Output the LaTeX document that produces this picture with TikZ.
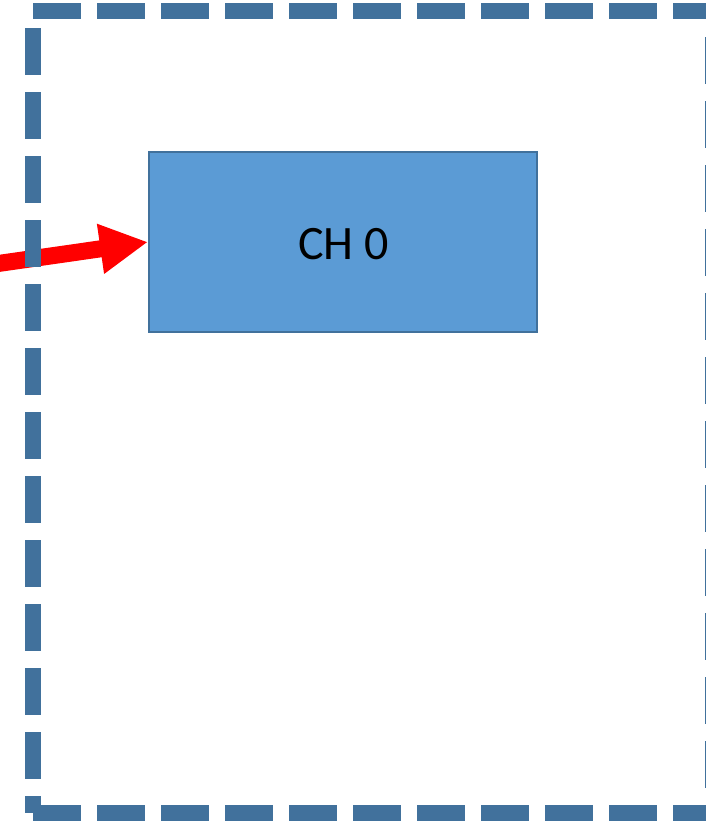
\documentclass[tikz,border=0pt]{standalone}
\usepackage{fontspec}
\setmainfont{Carlito}
\usetikzlibrary{arrows.meta}
\definecolor{frameblue}{HTML}{41719C}
\definecolor{boxblue}{HTML}{5B9BD5}
\definecolor{arrowred}{HTML}{FF0000}
\tikzset{
  chbox/.style={draw=frameblue, line width=2pt, fill=boxblue, minimum width=388pt,
    minimum height=180pt, inner sep=0pt, font=\fontsize{48}{56}\selectfont},
  frameline/.style={draw=frameblue, line width=16pt, dash pattern=on 48pt off 16pt},
  feed/.style={draw=arrowred, line width=17pt, -{Triangle[length=48pt,width=47pt]}}
}
\begin{document}
\begin{tikzpicture}[x=1pt,y=-1pt]
  \useasboundingbox (0,0) rectangle (705,822);
  % channel block
  \node[chbox] (ch) at (343,242) {};
  \node[font=\fontsize{48}{56}\selectfont, inner sep=0pt] (chlabel) at (343.5,244.5) {CH 0};
  % incoming feed
  \coordinate (src) at (-40,269);
  \draw[feed] (src) -- (ch.west);
  % dashed enclosure, one side at a time
  \coordinate (tl) at (33,11);
  \coordinate (tr) at (721,11);
  \coordinate (bl) at (33,813);
  \coordinate (br) at (721,813);
  \coordinate (ltop) at (33,28);
  \coordinate (rtop) at (712.8,37);
  \coordinate (rbot) at (712.8,813);
  \draw[frameline] (tl) -- (tr);
  \draw[frameline] (bl) -- (br);
  \draw[frameline, dash pattern=on 47pt off 17pt] (ltop) -- (bl);
  \draw[frameline, dash pattern=on 47pt off 17pt] (rtop) -- (rbot);
\end{tikzpicture}
\end{document}
